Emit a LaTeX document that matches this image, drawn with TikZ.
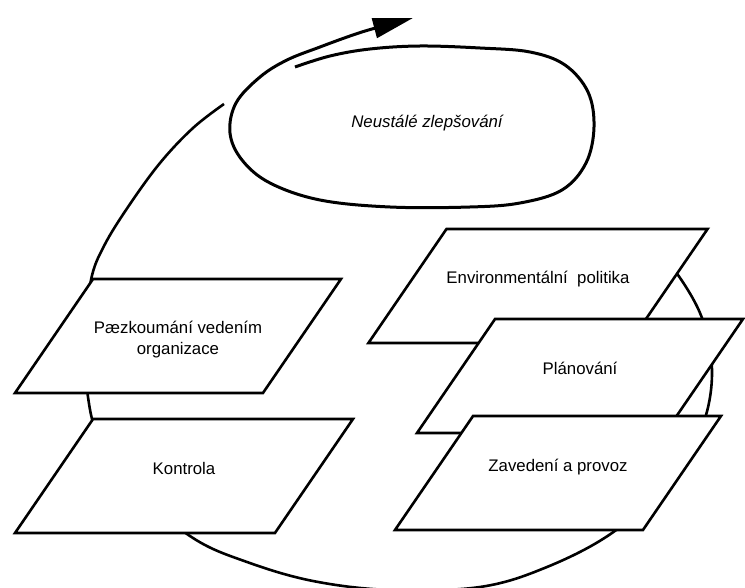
\documentclass[tikz,border=0pt]{standalone}
\usepackage{fontspec}
\setmainfont{Liberation Sans}
\usetikzlibrary{arrows.meta}
\usetikzlibrary{shapes.geometric}

\begin{document}
\begin{tikzpicture}[x=1pt,y=-1pt]
\useasboundingbox (0,0) rectangle (745,588);
\clip (0,0) rectangle (745,588);

% big cycle, behind the boxes
\draw[line width=2.6pt] plot[smooth, tension=0.6] coordinates {(224,104) (193,128) (160,163) (128,207) (104,246) (91,280) (85,338) (88,397) (100,440) (135,490) (193,538) (247,562) (313,581) (390,590) (480,587) (547,567) (612,533) (665,485) (700,432) (712,375) (702,318) (673,268) (645,240)};

\begin{scope}[every node/.style={trapezium, trapezium left angle=55.6,
              trapezium right angle=124.4, trapezium stretches body=true,
              draw, line width=2.6pt, fill=white, inner sep=0pt,
              text height=55pt, text depth=59pt, minimum width=326pt,
              font=\fontsize{16.8}{21}\selectfont, align=center}]
    \node (E) at (538,286) {Environmentální~ politika};
    \node (P) at (580,376) {Plánování};
    \node (Z) at (558,473) {Zavedení a provoz};
    \node[text height=76pt, text depth=38pt] (R) at (178,336) {Pæzkoumání vedením\\organizace};
    \node[minimum width=338pt] (K) at (184,476) {Kontrola};
\end{scope}

% the improvement spiral
\draw[-{Triangle[length=40pt,width=20pt]}, line width=3pt] plot[smooth, tension=0.6] coordinates {(295,67) (330,56) (370,49) (420,46) (480,48) (530,52) (565,65) (588,92) (594,127) (586,163) (562,190) (520,203) (470,207) (390,207) (320,200) (270,183) (242,160) (230,133) (236,103) (260,77) (287,60) (320,47) (350,36) (372,29) (413,18)};
\node (N) at (427,123) {\fontsize{16.8}{21}\selectfont\itshape Neustálé zlepšování};
\end{tikzpicture}
\end{document}
